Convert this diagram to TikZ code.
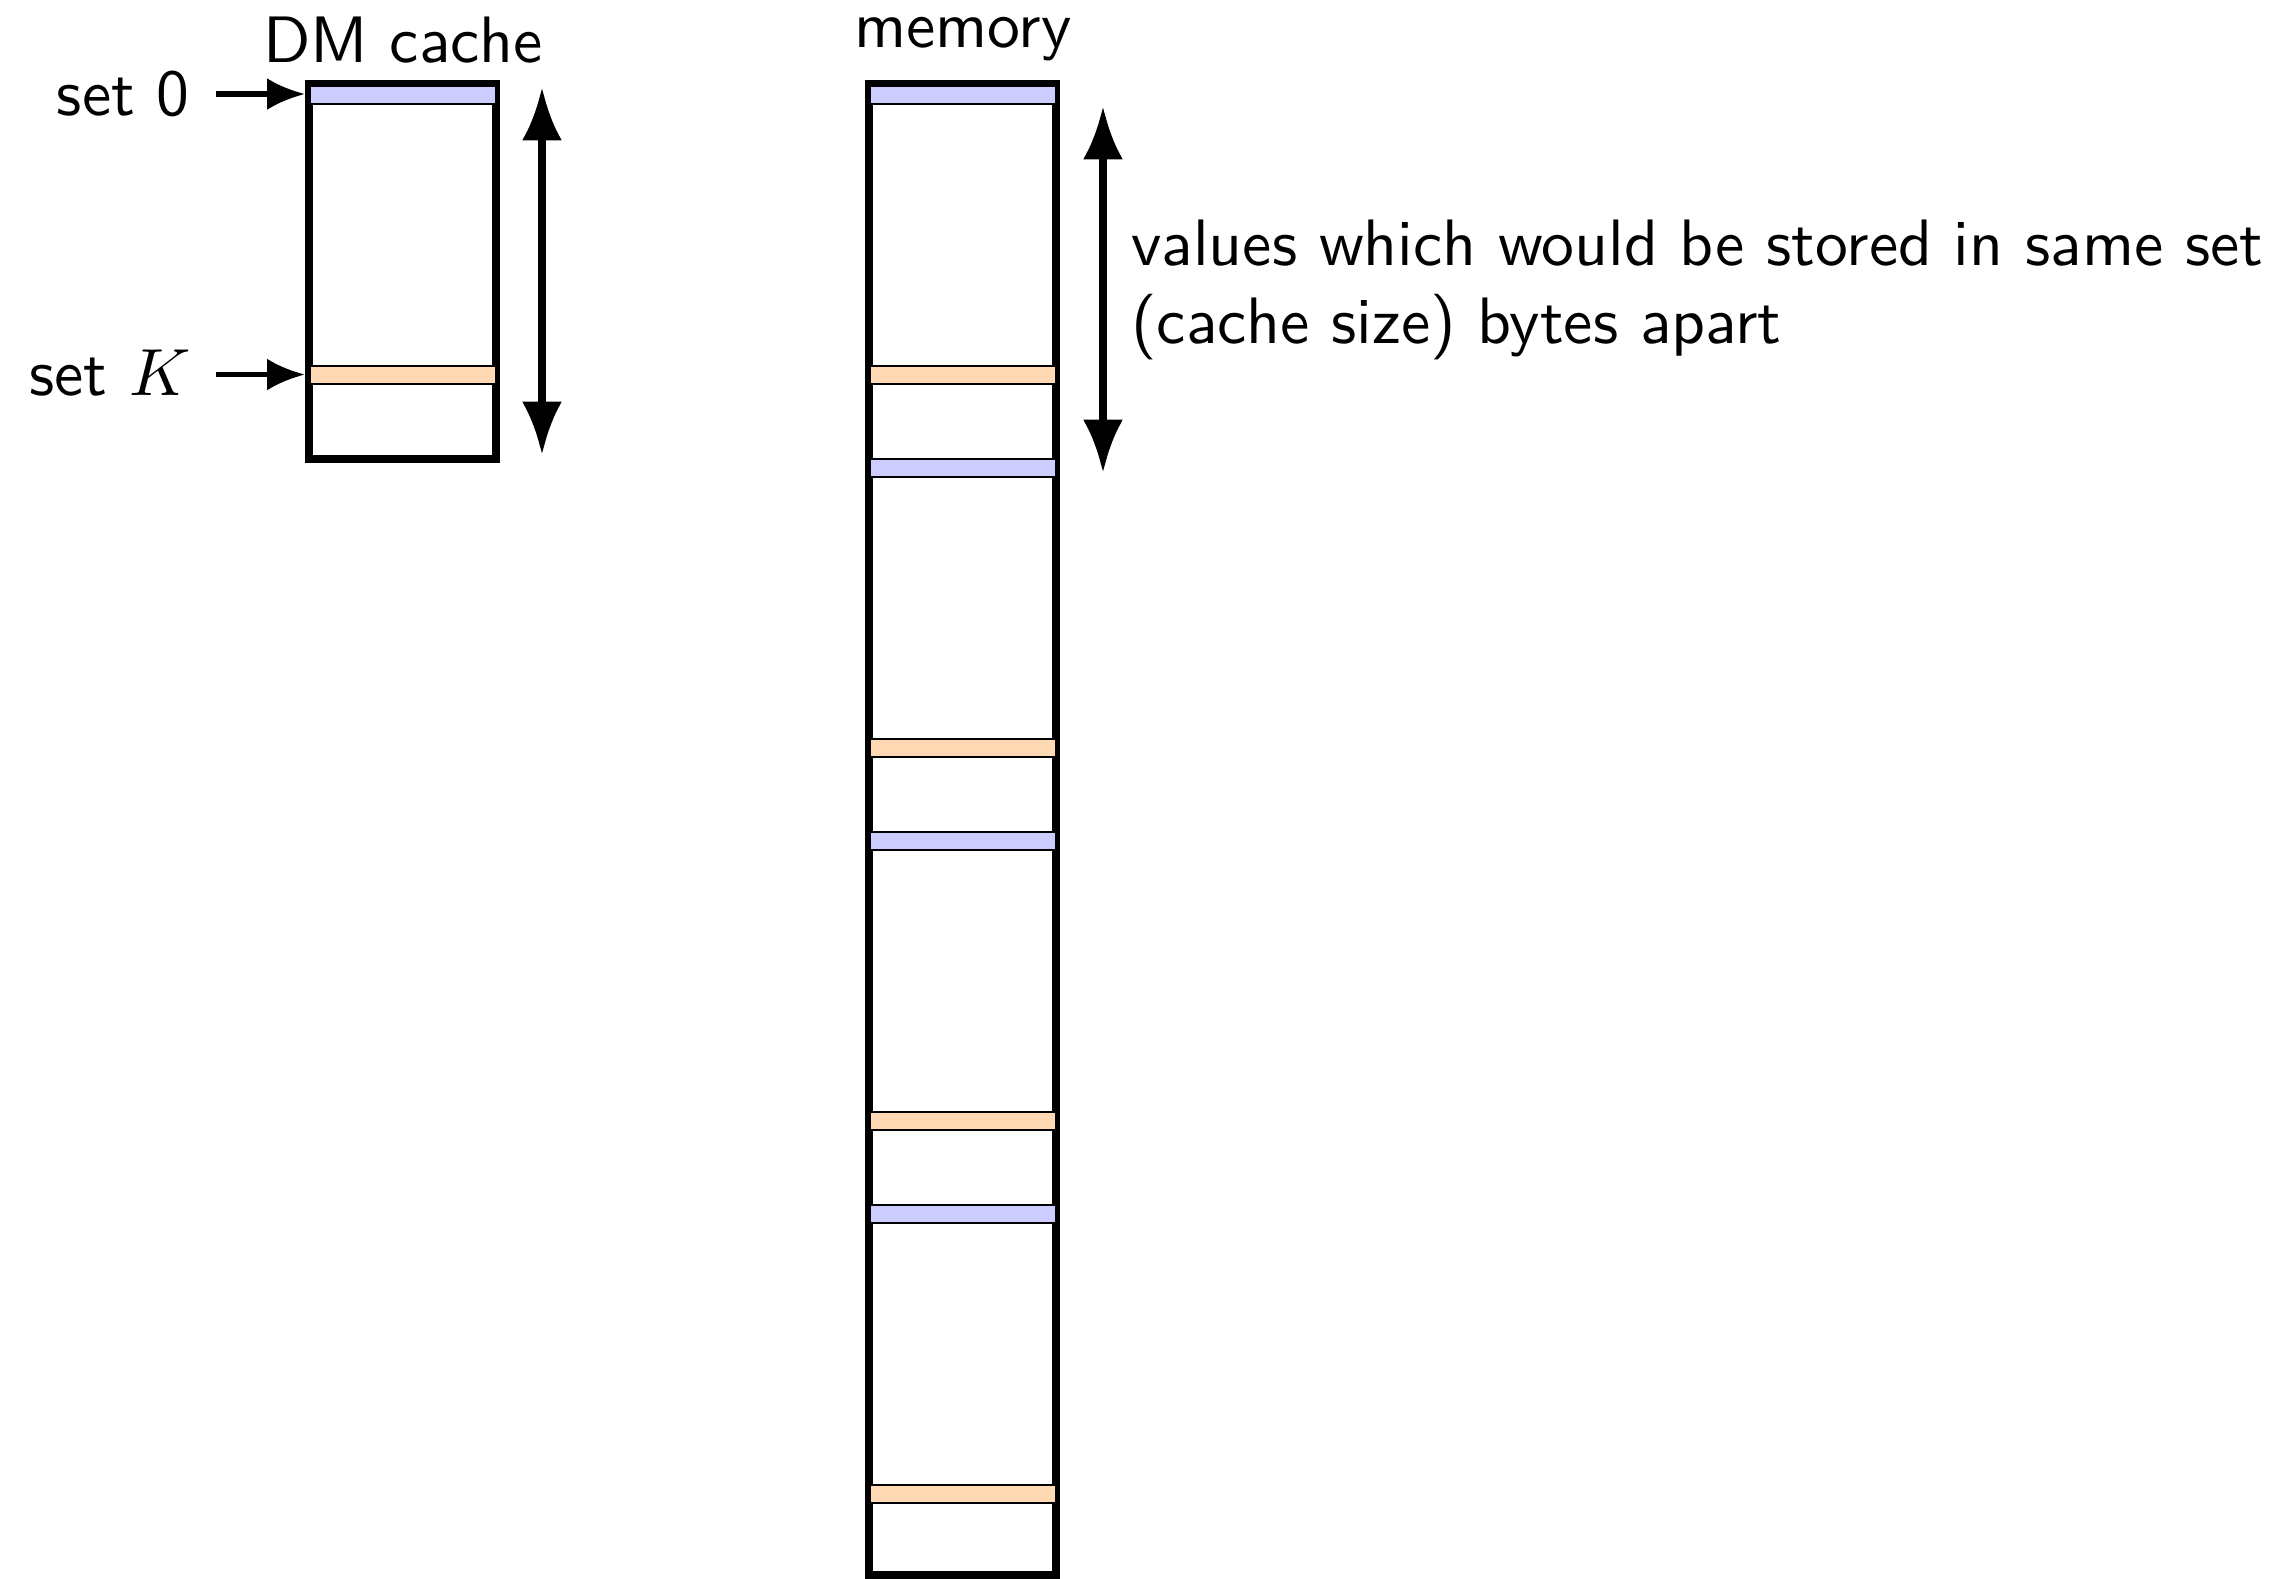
\documentclass[tikz,border=0pt]{standalone}
\usepackage{fontspec}
\usetikzlibrary{arrows.meta}
\definecolor{setblue}{RGB}{204,204,255}
\definecolor{setorange}{RGB}{255,217,179}
\tikzset{
  frame/.style={draw=black, line width=1.2pt},
  barblue/.style={fill=setblue, draw=black, line width=0.3pt},
  barorange/.style={fill=setorange, draw=black, line width=0.3pt},
  setarrow/.style={-{Latex[length=5.7pt,width=4.8pt]}, line width=0.8pt, shorten >=0.6pt},
  spanarrow/.style={{Latex[length=8pt,width=6pt]}-{Latex[length=8pt,width=6pt]}, line width=1.2pt},
  lbl/.style={inner sep=0pt, font=\sffamily\fontsize{9.85}{12}\selectfont}
}
\begin{document}
\begin{tikzpicture}[x=0.15pt, y=-0.15pt]
\useasboundingbox (0,0) rectangle (2278,1578);
% DM cache
\draw[frame] (309,84) rectangle (496,458.5);
\draw[barblue] (309.5,86) rectangle (496,104);
\draw[barorange] (309.5,365.5) rectangle (496,383.5);
\coordinate (c0) at (309,94);
\coordinate (cK) at (309,374.5);
\node[lbl, anchor=base] (dmcache) at (403,62) {DM cache};
\node[lbl, anchor=base east] (set0) at (191,115) {set 0};
\node[lbl, anchor=base east] (setK) at (192,395) {set $K$};
\coordinate (a0) at (216,94);
\coordinate (aK) at (216,374.5);
\draw[setarrow] (a0) -- (c0);
\draw[setarrow] (aK) -- (cK);
\coordinate (ct) at (542,87);
\coordinate (cb) at (542,455);
\draw[spanarrow] (ct) -- (cb);
% memory
\draw[frame] (869,84) rectangle (1056,1575);
\foreach \k in {0,1,2,3} {
  \draw[barblue] (869.5,86+373*\k) rectangle (1056,104+373*\k);
  \draw[barorange] (869.5,365.5+373*\k) rectangle (1056,383.5+373*\k);
}
\node[lbl, anchor=base] (memory) at (963,47) {memory};
\coordinate (mt) at (1103,106);
\coordinate (mb) at (1103,473);
\draw[spanarrow] (mt) -- (mb);
\node[lbl, anchor=base west] (txt1) at (1130,265) {values which would be stored in same set};
\node[lbl, anchor=base west] (txt2) at (1130,343) {(cache size) bytes apart};
\end{tikzpicture}
\end{document}
